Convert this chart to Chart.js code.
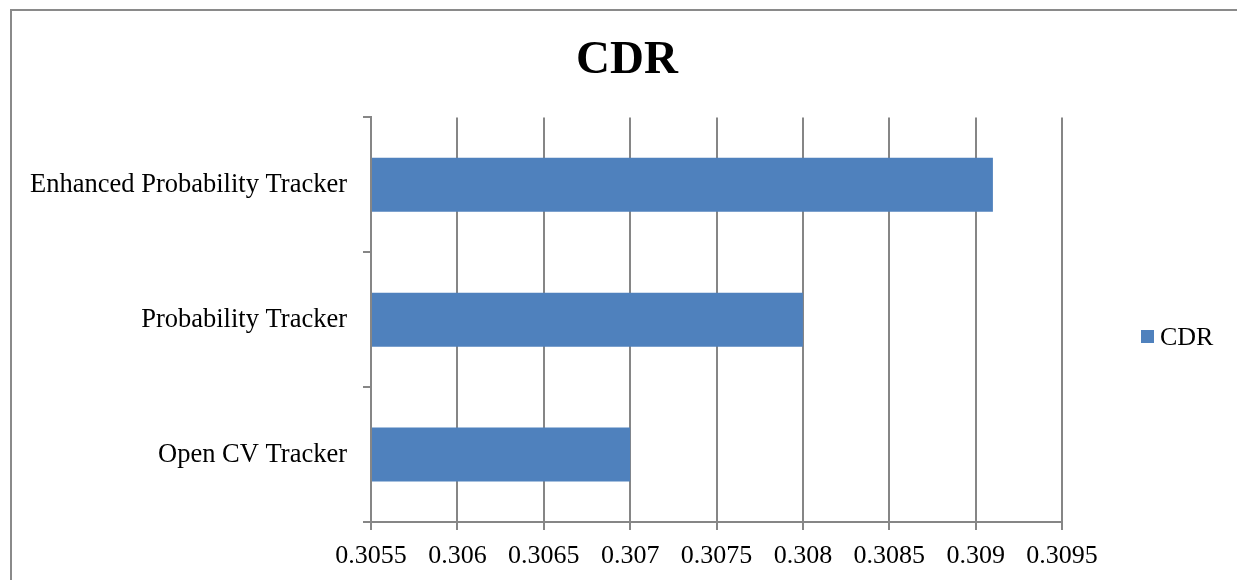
<!DOCTYPE html>
<html>
<head>
<meta charset="utf-8">
<title>CDR</title>
<script src="https://cdn.jsdelivr.net/npm/chart.js@4.4.1/dist/chart.umd.min.js"></script>
<style>
  html, body { margin: 0; padding: 0; background: #ffffff; overflow: hidden; }
  #frame {
    position: absolute; left: 10px; top: 9px; width: 1400px; height: 800px;
    border: 2px solid #8a8a8a; box-sizing: border-box;
  }
  #wrap { position: absolute; left: 0; top: 0; width: 1237px; height: 580px; }
</style>
</head>
<body>
<div id="frame"></div>
<div id="wrap"><canvas id="chart" width="1237" height="580"></canvas></div>
<script>
// Trackers compared, top to bottom
const categories = ['Enhanced Probability Tracker', 'Probability Tracker', 'Open CV Tracker'];
// CDR score per tracker
const cdrValues = [0.3091, 0.308, 0.307];
const seriesName = 'CDR';
// Value axis range and labels
const axisMin = 0.3055;
const axisMax = 0.3095;
const axisStep = 0.0005;
const xTickLabels = ['0.3055', '0.306', '0.3065', '0.307', '0.3075', '0.308', '0.3085', '0.309', '0.3095'];

const serif = "'Liberation Serif', 'Times New Roman', serif";
const axisGrey = '#868686';
const barBlue = '#4F81BD';

// Single-entry legend drawn in the space to the right of the plot
const sideLegend = {
  id: 'sideLegend',
  afterDraw(chart) {
    const ctx = chart.ctx;
    const ds = chart.data.datasets[0];
    ctx.save();
    ctx.fillStyle = ds.backgroundColor;
    ctx.fillRect(1141, 330, 13, 13);
    ctx.fillStyle = '#000000';
    ctx.font = '26px ' + serif;
    ctx.textAlign = 'left';
    ctx.textBaseline = 'alphabetic';
    ctx.fillText(ds.label, 1160, 345);
    ctx.restore();
  }
};

new Chart(document.getElementById('chart'), {
  type: 'bar',
  data: {
    labels: categories,
    datasets: [{
      label: seriesName,
      data: cdrValues,
      base: axisMin,
      backgroundColor: barBlue,
      borderWidth: 0,
      categoryPercentage: 0.4,
      barPercentage: 1.0
    }]
  },
  plugins: [sideLegend],
  options: {
    indexAxis: 'y',
    responsive: false,
    animation: false,
    layout: { padding: { top: 10, left: 17, right: 0, bottom: 0 } },
    plugins: {
      legend: { display: false },
      tooltip: { enabled: false },
      title: {
        display: true,
        text: 'CDR',
        color: '#000000',
        font: { family: serif, size: 47, weight: 'bold' },
        padding: { top: 23, bottom: 28 }
      }
    },
    scales: {
      x: {
        type: 'linear',
        min: axisMin,
        max: axisMax,
        ticks: {
          stepSize: axisStep,
          color: '#000000',
          font: { family: serif, size: 26 },
          padding: 11,
          maxRotation: 0,
          autoSkip: false,
          callback: (v, i) => xTickLabels[i]
        },
        grid: { color: axisGrey, lineWidth: 2, tickLength: 8, tickColor: axisGrey },
        border: { display: true, color: axisGrey, width: 2 },
        afterFit(scale) {
          scale.height = 58;
          // keep room on the right for the legend
          scale.paddingRight = 175;
        }
      },
      y: {
        type: 'category',
        ticks: {
          color: '#000000',
          font: { family: serif, size: 26.5 },
          padding: 16
        },
        grid: { display: true, offset: true, drawOnChartArea: false, color: axisGrey, lineWidth: 2, tickLength: 8 },
        border: { display: true, color: axisGrey, width: 2 },
        afterFit(scale) { scale.width = 354; }
      }
    }
  }
});
</script>
</body>
</html>
